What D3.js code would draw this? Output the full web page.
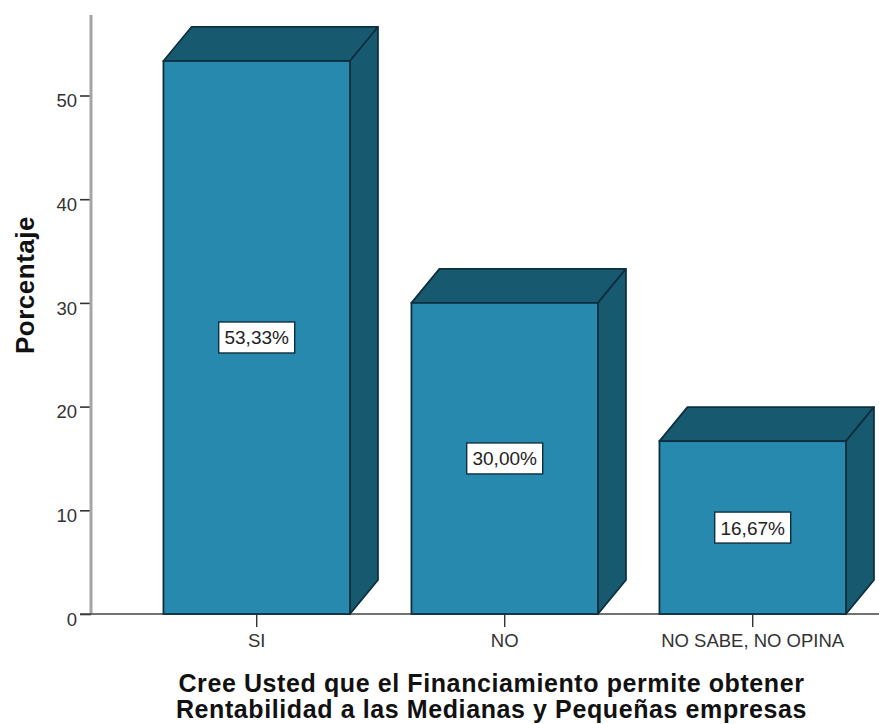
<!DOCTYPE html>
<html><head><meta charset="utf-8">
<script src="https://cdn.jsdelivr.net/npm/d3@7"></script>
<style>
html,body{margin:0;padding:0;background:#fff}
svg{display:block}
text{font-family:"Liberation Sans",Arial,sans-serif}
</style></head><body>
<svg id="c" width="879" height="724"></svg>
<script>
const categories = ["SI","NO","NO SABE, NO OPINA"];
const values = [53.33,30.00,16.67];
const valueLabels = ["53,33%","30,00%","16,67%"];
const yTicks = [0,10,20,30,40,50];
const yTitle = "Porcentaje";
const xTitle = ["Cree Usted que el Financiamiento permite obtener","Rentabilidad a las Medianas y Pequeñas empresas"];

const svg = d3.select("#c");
const y = d3.scaleLinear().domain([0,50]).range([614,95.5]);
const x = d3.scaleBand().domain(categories).range([132.7,876.7]).paddingInner(0.248).paddingOuter(0.124);
const dx = 28, dy = 34;
const front="#2789ad", dark="#175a70", line="#0e2f40";

// axes first, bars sit on top
const ya = svg.append("g").attr("transform","translate(91,0)")
 .call(d3.axisLeft(y).tickValues(yTicks).tickSize(11).tickPadding(3));
ya.select(".domain").remove();
ya.selectAll("line").attr("stroke","#333").attr("stroke-width",1.6);
ya.selectAll("text").attr("font-size",18.5).attr("fill","#333").attr("dy","0.6em").style("font-family","Liberation Sans");
svg.append("line").attr("x1",91).attr("x2",91).attr("y1",15).attr("y2",y(0)).attr("stroke","#a5a5a5").attr("stroke-width",3);

const xa = svg.append("g").attr("transform",`translate(0,${y(0)})`)
 .call(d3.axisBottom(x).tickSize(13).tickPadding(7));
xa.select(".domain").remove();
xa.selectAll("line").attr("stroke","#333").attr("stroke-width",1.4);
xa.selectAll("text").attr("font-size",18.5).attr("fill","#333").style("font-family","Liberation Sans");
svg.append("line").attr("x1",80).attr("x2",879).attr("y1",y(0)).attr("y2",y(0)).attr("stroke","#444").attr("stroke-width",1.4);

// bars
const g = svg.append("g").selectAll("g").data(categories.map((c,i)=>({c,v:values[i],l:valueLabels[i]}))).join("g");
g.append("path").attr("fill",dark).attr("stroke",line).attr("stroke-width",1.8).attr("stroke-linejoin","round")
 .attr("d",d=>{const a=x(d.c),b=a+x.bandwidth(),t=y(d.v);return `M${a},${t}L${a+dx},${t-dy}H${b+dx}L${b},${t}Z`;});
g.append("path").attr("fill",dark).attr("stroke",line).attr("stroke-width",1.8).attr("stroke-linejoin","round")
 .attr("d",d=>{const b=x(d.c)+x.bandwidth(),t=y(d.v),z=y(0);return `M${b},${t}L${b+dx},${t-dy}V${z-dy}L${b},${z}Z`;});
g.append("rect").attr("fill",front).attr("stroke",line).attr("stroke-width",1.8)
 .attr("x",d=>x(d.c)).attr("y",d=>y(d.v)).attr("width",x.bandwidth()).attr("height",d=>y(0)-y(d.v));
// value labels
g.append("rect").attr("fill","#fff").attr("stroke",line).attr("stroke-width",1.4)
 .attr("x",d=>x(d.c)+x.bandwidth()/2-38).attr("y",d=>y(d.v/2)-15.5).attr("width",76).attr("height",31);
g.append("text").attr("x",d=>x(d.c)+x.bandwidth()/2).attr("y",d=>y(d.v/2)+7).attr("text-anchor","middle")
 .attr("font-size",19).attr("fill","#222").text(d=>d.l);

// titles
svg.append("text").attr("transform","translate(34,285) rotate(-90)").attr("text-anchor","middle")
 .attr("font-size",26).attr("font-weight","bold").attr("letter-spacing",0.5).attr("fill","#111").text(yTitle);
svg.selectAll(".xt").data(xTitle).join("text").attr("class","xt").attr("x",491.5).attr("y",(d,i)=>692+i*26)
 .attr("text-anchor","middle").attr("font-size",25).attr("font-weight","bold").attr("fill","#111").attr("letter-spacing",0.6).text(d=>d);
</script></body></html>
